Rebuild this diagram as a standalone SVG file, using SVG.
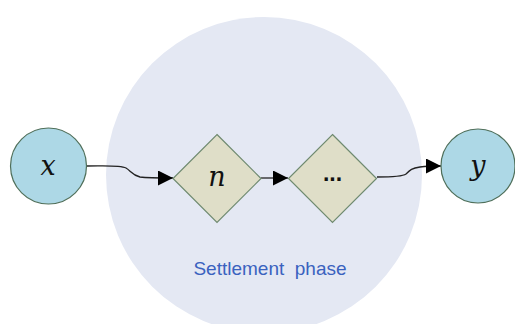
<svg xmlns="http://www.w3.org/2000/svg" width="515" height="324" viewBox="0 0 515 324">
<defs>
<style>
.io{fill:#add8e6;stroke:#4f6f5a;stroke-width:1.2}
.dm{fill:#dfdec8;stroke:#6f8a70;stroke-width:1.2}
.math{font-family:"DejaVu Serif","Liberation Serif",serif;font-style:italic;font-size:27px;fill:#111;text-anchor:middle}
.edge{fill:none;stroke:#222;stroke-width:1.3}
.lbl{font-family:"Liberation Sans",Arial,sans-serif;font-size:19px;fill:#3a62bf;text-anchor:middle}
</style>
<marker id="arr" viewBox="0 0 10 10" refX="10" refY="5" markerWidth="15" markerHeight="15" markerUnits="userSpaceOnUse" orient="auto">
<path d="M0,0 L10,5 L0,10 Z" fill="#000"/>
</marker>
</defs>
<rect width="515" height="324" fill="#fff"/>
<g id="phase">
<circle cx="264" cy="175" r="158" fill="#e4e8f3"/>
<text class="lbl" x="270" y="275" xml:space="preserve">Settlement  phase</text>
</g>
<g id="connectors">
<path class="edge" d="M87,166 C105,166 120,165 126,168 C131,171 132,175 140,177 C148,178 160,178 173,178" marker-end="url(#arr)"/>
<path class="edge" d="M261,178 L288,178" marker-end="url(#arr)"/>
<path class="edge" d="M377,177 C390,177 402,177 406,174 C410,170 412,168 420,167 C428,166 435,166 441,166" marker-end="url(#arr)"/>
</g>
<g id="node-x">
<circle class="io" cx="48.5" cy="166" r="38"/>
<text class="math" x="48" y="175">x</text>
</g>
<g id="node-n">
<polygon class="dm" points="217,134.5 261,178.5 217,222.5 173,178.5"/>
<text class="math" x="217" y="186">n</text>
</g>
<g id="node-dots">
<polygon class="dm" points="332.5,134.5 376.5,178.5 332.5,222.5 288.5,178.5"/>
<text x="332.5" y="181" font-family="Liberation Sans,Arial,sans-serif" font-weight="bold" font-size="23" text-anchor="middle" fill="#111">...</text>
</g>
<g id="node-y">
<circle class="io" cx="478" cy="166" r="37"/>
<text class="math" x="478" y="175">y</text>
</g>
</svg>
